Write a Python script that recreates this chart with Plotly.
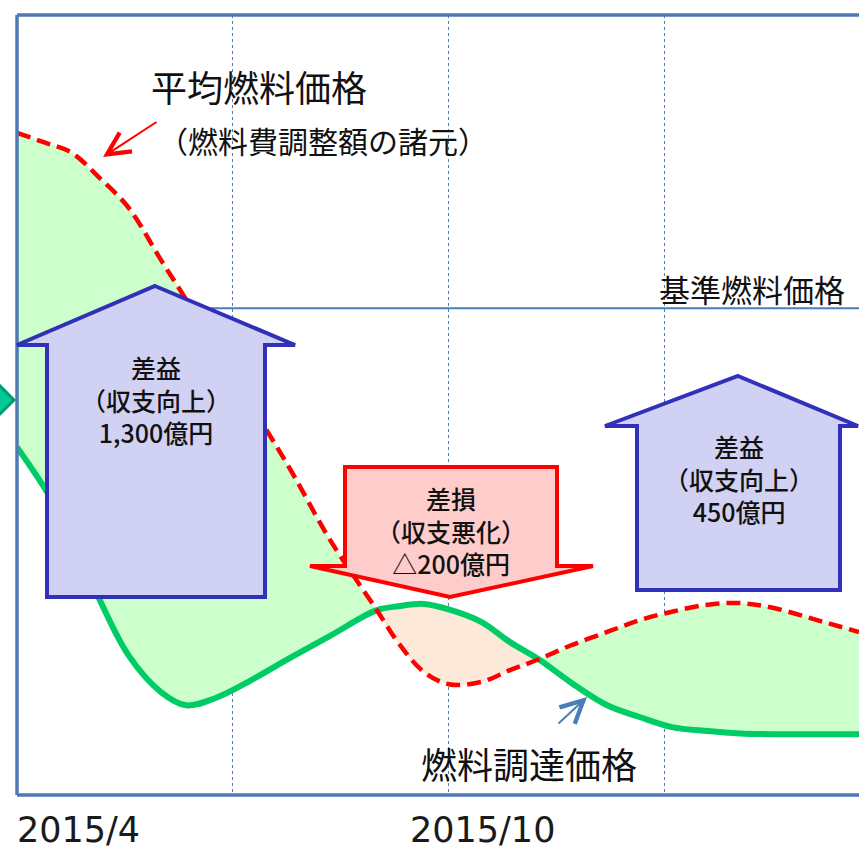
import plotly.graph_objects as go

# Months elapsed since 2015/4 and price index values of both curves
months = [0, 0.4, 0.75, 1.15, 1.55, 2, 2.35, 2.75, 3.25, 3.8, 4.35, 5, 5.3, 5.65,
          6, 6.45, 6.85, 7.25, 7.7, 8.2, 8.65, 9.1, 9.6, 10.05, 10.5, 11.2, 11.7]
avg_price = [84.9, 83.6, 82.4, 79.1, 75.3, 68.6, 63.5, 57.1, 50.0, 41.7, 32.7, 23.7, 19.5, 15.8,
             14.2, 14.5, 16.0, 17.4, 19.2, 20.9, 22.4, 23.5, 24.4, 24.6, 24.0, 22.2, 20.9]
proc_price = [44.6, 39.1, 33.3, 25.0, 17.9, 13.2, 11.5, 12.4, 14.7, 17.6, 20.4, 23.7, 24.2, 24.5,
              23.8, 22.2, 19.6, 17.4, 14.4, 11.5, 10.0, 8.7, 8.2, 7.9, 7.8, 7.8, 7.8]
base_price = 62.4
grid_months = [3, 6, 9]
# indices where the two curves cross
crossings = [11, 17]

period_labels = ["2015/4", "2015/10"]
gain_text_1 = "差益<br>（収支向上）<br>1,300億円"
loss_text = "差損<br>（収支悪化）<br>△200億円"
gain_text_2 = "差益<br>（収支向上）<br>450億円"

W, H = 859, 849
ML, MT, MR, MB = 17, 15, 0, 54
PW, PH = W - ML - MR, H - MT - MB

def px(x, y):
    """Canvas pixel position -> paper coordinates."""
    return (x - ML) / PW, (H - MB - y) / PH

def block_path(points):
    pts = [px(x, y) for x, y in points]
    return "M " + " L ".join(f"{a:.5f},{b:.5f}" for a, b in pts) + " Z"

GAIN_FILL = "#ccffcc"
LOSS_FILL = "#fde9d9"
RED = "#ff0000"
GREEN = "#00cc66"
BLUE_LINE = "#4a7ebb"
JP = "Noto Sans CJK JP"

fig = go.Figure()

# filled gaps between the two curves (gain / loss / gain)
bounds = [0] + crossings + [len(months) - 1]
fills = [GAIN_FILL, LOSS_FILL, GAIN_FILL]
for (i0, i1), fc in zip(zip(bounds[:-1], bounds[1:]), fills):
    xs = months[i0:i1 + 1]
    fig.add_trace(go.Scatter(x=xs, y=proc_price[i0:i1 + 1], mode="lines",
                             line=dict(width=0, shape="spline"), hoverinfo="skip",
                             showlegend=False))
    fig.add_trace(go.Scatter(x=xs, y=avg_price[i0:i1 + 1], mode="lines",
                             line=dict(width=0, shape="spline"), fill="tonexty",
                             fillcolor=fc, hoverinfo="skip", showlegend=False))

# 燃料調達価格
fig.add_trace(go.Scatter(x=months, y=proc_price, mode="lines",
                         line=dict(color=GREEN, width=6, shape="spline"),
                         showlegend=False))
# 平均燃料価格
fig.add_trace(go.Scatter(x=months, y=avg_price, mode="lines",
                         line=dict(color=RED, width=4.5, shape="spline", dash="14px,7px"),
                         showlegend=False))

shapes = []
# 基準燃料価格 line
shapes.append(dict(type="line", xref="paper", x0=0, x1=1, yref="y", y0=base_price, y1=base_price,
                   line=dict(color=BLUE_LINE, width=2), layer="below"))
# frame
for x0, y0, x1, y1 in [(0, 0, 0, 1), (0, 1, 1, 1), (0, 0, 1, 0)]:
    shapes.append(dict(type="line", xref="paper", yref="paper", x0=x0, y0=y0, x1=x1, y1=y1,
                       line=dict(color="#4f79b5", width=3.5), layer="above"))

# diamond badge on the left edge
shapes.append(dict(type="path", xref="paper", yref="paper",
                   path=block_path([(14, 400), (-3, 383), (-20, 400), (-3, 417)]),
                   line=dict(color="#009a72", width=3), fillcolor="#00c896", layer="above"))

# block arrows
up1 = [(155, 286), (295, 345), (265, 345), (265, 597), (47, 597), (47, 345), (17, 345)]
down = [(345, 467), (557, 467), (557, 566), (593, 566), (450, 597), (310, 566), (345, 566)]
up2 = [(738, 376), (858, 426), (840, 426), (840, 590), (637, 590), (637, 426), (605, 426)]
for pts, lc, fc in [(up1, "#3030b8", "#d1d1f3"), (down, RED, "#ffcccc"), (up2, "#3030b8", "#d1d1f3")]:
    shapes.append(dict(type="path", xref="paper", yref="paper", path=block_path(pts),
                       line=dict(color=lc, width=4), fillcolor=fc, layer="above"))

annotations = []
def text_at(x, y, text, size, anchor="center", family=JP, color="#111111", weight=400):
    a, b = px(x, y)
    annotations.append(dict(x=a, y=b, xref="paper", yref="paper", text=text, showarrow=False,
                            xanchor=anchor, yanchor="middle",
                            font=dict(family=family, size=size, color=color, weight=weight)))

text_at(156, 399, gain_text_1, 25, weight=500)
text_at(451, 530, loss_text, 25, weight=500)
text_at(739, 478, gain_text_2, 25, weight=500)
text_at(259, 86, "平均燃料価格", 36)
text_at(323, 140, "（燃料費調整額の諸元）", 30)
text_at(752, 288, "基準燃料価格", 31)
text_at(529, 763, "燃料調達価格", 36)
text_at(15, 830, period_labels[0], 35, anchor="left", family="DejaVu Sans", color="#1a1a1a")
text_at(408, 830, period_labels[1], 35, anchor="left", family="DejaVu Sans", color="#1a1a1a")

# pointer arrows
for head, tail, col in [((103, 157), (158, 121), RED), ((587, 697), (557, 725), BLUE_LINE)]:
    a, b = px(*head)
    annotations.append(dict(x=a, y=b, xref="paper", yref="paper", text="", showarrow=True,
                            ax=tail[0] - head[0], ay=tail[1] - head[1],
                            arrowcolor=col, arrowwidth=2, arrowhead=5, arrowsize=2.2,
                            standoff=0))

fig.update_layout(
    width=W, height=H,
    margin=dict(l=ML, r=MR, t=MT, b=MB),
    paper_bgcolor="white", plot_bgcolor="white",
    xaxis=dict(range=[0, 11.7], tickvals=grid_months, showticklabels=False, ticks="",
               showgrid=True, griddash="dot", gridcolor=BLUE_LINE, gridwidth=1,
               zeroline=False, showline=False, fixedrange=True),
    yaxis=dict(range=[0, 100], showticklabels=False, showgrid=False, zeroline=False,
               showline=False, fixedrange=True),
    shapes=shapes, annotations=annotations, showlegend=False,
)

fig.write_html("out.html")
